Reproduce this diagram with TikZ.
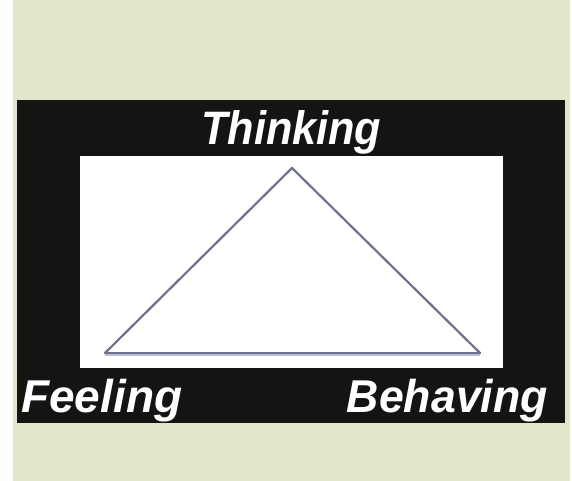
\documentclass[tikz,border=0pt]{standalone}
\usepackage{fontspec}
\setmainfont{Liberation Sans}
\definecolor{paper}{RGB}{227,230,202}
\definecolor{frame}{RGB}{22,19,19}
\definecolor{edge}{RGB}{110,114,142}
\definecolor{shadowc}{RGB}{185,190,208}
\tikzset{
  lbl/.style={text=white, font=\fontsize{46}{50}\selectfont\bfseries\itshape, inner sep=0pt},
  side/.style={draw=edge, line width=2.2pt, line join=round, line cap=round}
}
\begin{document}
\begin{tikzpicture}[x=1pt,y=-1pt]
\useasboundingbox (0,0) rectangle (572,481);
\fill[white!96!paper] (0,0) rectangle (572,481);
\fill[paper] (13,0) rectangle (570,481);
\fill[frame] (17,100) rectangle (565,423);
\fill[white] (80,156) rectangle (503,368);
\coordinate (top) at (292,168);
\coordinate (bl) at (105,353);
\coordinate (br) at (480,353);
\draw[shadowc, line width=2.4pt] ([yshift=-2.2pt]bl) -- ([yshift=-2.2pt]br);
\draw[side] (bl) -- (top) -- (br);
\draw[side] (bl) -- (br);
\node[lbl, anchor=base west] (think) at (201,145) {\scalebox{0.94}[1.02]{Thinking}};
\node[lbl, anchor=base west] (feel) at (21,412) {Feeling};
\node[lbl, anchor=base east] (behave) at (548,412) {\scalebox{0.97}[1]{Behaving}};
\end{tikzpicture}
\end{document}
